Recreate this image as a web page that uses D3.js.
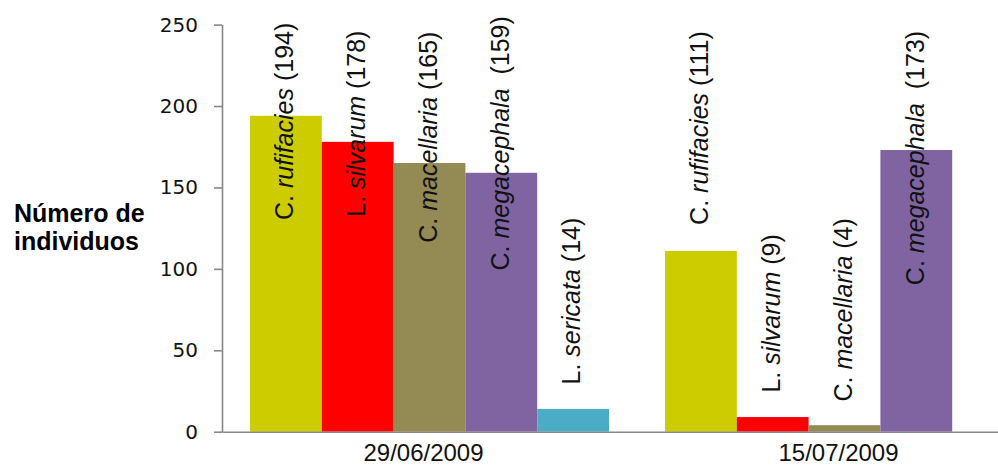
<!DOCTYPE html>
<html>
<head>
<meta charset="utf-8">
<script src="https://cdn.jsdelivr.net/npm/d3@7"></script>
<style>
  body { margin: 0; background: #fff; }
  svg { display: block; }
</style>
</head>
<body>
<div id="chart"></div>
<script>
// data
var dates = ["29/06/2009", "15/07/2009"];
var genus = ["C.", "L.", "C.", "C.", "L."];
var epithet = ["rufifacies", "silvarum", "macellaria", "megacephala", "sericata"];
var counts_2906 = [194, 178, 165, 159, 14];
var counts_1507 = [111, 9, 4, 173, null];
var yTicks = [0, 50, 100, 150, 200, 250];

// where each (hand placed) label starts, in axis units
var labelStart_2906 = [130, 132, 116, 99, 29];
var labelStart_1507 = [127, 24, 18.5, 90, null];

var colors = ["#cccc00", "#ff0000", "#948a54", "#8064a2", "#4bacc6"];

var width = 998, height = 465;
var svg = d3.select("#chart").append("svg")
  .attr("width", width)
  .attr("height", height);

var x0 = d3.scaleBand()
  .domain(dates)
  .range([222, 1052])
  .padding(0);

var x1 = d3.scaleBand()
  .domain(d3.range(epithet.length))
  .range([28, x0.bandwidth() - 28])
  .padding(0);

var y = d3.scaleLinear()
  .domain([0, 250])
  .range([431.7, 24.6]);

var table = [];
dates.forEach(function(dt, di) {
  var vals = di == 0 ? counts_2906 : counts_1507;
  var starts = di == 0 ? labelStart_2906 : labelStart_1507;
  vals.forEach(function(v, si) {
    if (v == null) return;
    table.push({ date: dt, s: si, value: v, start: starts[si] });
  });
});

// bars
svg.append("g").selectAll("rect")
  .data(table)
  .enter()
  .append("rect")
  .attr("x", function(d) { return x0(d.date) + x1(d.s); })
  .attr("y", function(d) { return y(d.value); })
  .attr("width", x1.bandwidth())
  .attr("height", function(d) { return y(0) - y(d.value); })
  .attr("fill", function(d) { return colors[d.s]; });

// y axis
var axisy = d3.axisLeft(y).tickValues(yTicks).tickSize(8).tickSizeOuter(0).tickPadding(16);
var gy = svg.append("g")
  .attr("transform", "translate(222,0)")
  .call(axisy);
gy.select(".domain").attr("stroke", "#878787").attr("stroke-width", 1.6);
gy.selectAll(".tick line").attr("stroke", "#878787").attr("stroke-width", 1.6);
gy.selectAll(".tick text")
  .attr("fill", "#111")
  .attr("font-family", "DejaVu Sans")
  .attr("font-size", "20px");

// x axis
var axisx = d3.axisBottom(x0).tickSize(0).tickSizeOuter(0).tickPadding(12);
var gx = svg.append("g")
  .attr("transform", "translate(0," + y(0) + ")")
  .call(axisx);
gx.select(".domain").attr("stroke", "#878787").attr("stroke-width", 1.6);
gx.selectAll(".tick text")
  .attr("dx", -6)
  .attr("fill", "#111")
  .attr("font-family", "Liberation Sans")
  .attr("font-size", "24px");

// axis title
var title = svg.append("text")
  .attr("font-family", "Liberation Sans")
  .attr("font-size", "25px")
  .attr("font-weight", "bold")
  .attr("fill", "#000");
title.append("tspan").attr("x", 14).attr("y", 222).text("Número de");
title.append("tspan").attr("x", 14).attr("y", 250).text("individuos");

// species labels, rotated
var labels = svg.append("g").selectAll("text")
  .data(table)
  .enter()
  .append("text")
  .attr("transform", function(d) {
    var cx = x0(d.date) + x1(d.s) + x1.bandwidth() / 2 - 1.5;
    return "translate(" + cx + "," + y(d.start) + ") rotate(-90)";
  })
  .attr("dy", "0.35em")
  .attr("font-family", "Liberation Sans")
  .attr("font-size", "25px")
  .attr("fill", "#111")
  .style("white-space", "pre");

labels.append("tspan").text(function(d) { return genus[d.s] + " "; });
labels.append("tspan").attr("font-style", "italic").text(function(d) { return epithet[d.s]; });
labels.append("tspan").text(function(d) {
  var gap = epithet[d.s] == "megacephala" ? "  " : " ";
  return gap + "(" + d.value + ")";
});
</script>
</body>
</html>
